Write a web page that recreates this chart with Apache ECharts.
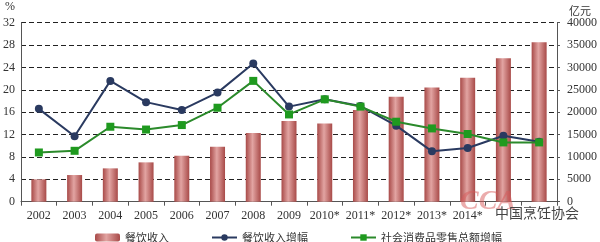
<!DOCTYPE html>
<html><head><meta charset="utf-8">
<script src="https://cdn.jsdelivr.net/npm/echarts@6/dist/echarts.min.js"></script>
<style>html,body{margin:0;padding:0;background:#fff}#c{width:600px;height:242px}</style>
</head><body><div id="c"></div>
<script>
const categories = ['2002','2003','2004','2005','2006','2007','2008','2009','2010*','2011*','2012*','2013*','2014*','2015*','2016*'];
const revenue = [5000,5960,7450,8790,10270,12280,15330,18020,17500,20470,23440,25500,27680,32080,35650];
const revenueGrowth = [16.6,11.7,21.6,17.8,16.4,19.5,24.7,17.0,18.3,17.1,13.6,9.0,9.6,11.8,10.7];
const retailGrowth = [8.8,9.1,13.4,12.9,13.7,16.8,21.6,15.6,18.3,17.0,14.3,13.1,12.1,10.6,10.6];
const leftTicks = [0,4,8,12,16,20,24,28,32];
const rightTicks = [0,5000,10000,15000,20000,25000,30000,35000,40000];
const names = ['餐饮收入','餐饮收入增幅','社会消费品零售总额增幅'];

const chart = echarts.init(document.getElementById('c'));
const serif = 'Liberation Serif';
const cjk = 'Noto Sans CJK SC';
chart.setOption({
  animation:false,
  grid:{left:20,right:39,top:22.7,bottom:40.3},
  legend:{
    left:90, top:227, itemWidth:25, itemHeight:8, itemGap:42,
    textStyle:{fontFamily:cjk,fontSize:11,color:'#333'},
    data:names
  },
  xAxis:{
    type:'category', data:categories,
    axisLine:{lineStyle:{color:'#555',width:1}},
    axisTick:{show:true,alignWithLabel:false,length:4,lineStyle:{color:'#555'}},
    axisLabel:{fontFamily:serif,fontSize:12,color:'#333',margin:8,interval:0}
  },
  yAxis:[{
    type:'value', min:leftTicks[0], max:leftTicks[leftTicks.length-1], interval:4,
    name:'%', nameLocation:'end', nameGap:10, nameTextStyle:{fontFamily:serif,fontSize:12,color:'#333',align:'right',padding:[0,6,0,0]},
    axisLine:{show:true,lineStyle:{color:'#555'}},
    axisTick:{show:false},
    axisLabel:{fontFamily:serif,fontSize:12,color:'#333',margin:6},
    splitLine:{show:true,lineStyle:{color:'#222',type:[5,3],width:1}}
  },{
    type:'value', min:rightTicks[0], max:rightTicks[rightTicks.length-1], interval:5000,
    name:'亿元', nameLocation:'end', nameGap:6, nameTextStyle:{fontFamily:cjk,fontSize:11,color:'#333',align:'left',padding:[0,0,0,12]},
    axisLine:{show:true,lineStyle:{color:'#555'}},
    axisTick:{show:true,length:3,lineStyle:{color:'#555'}},
    axisLabel:{fontFamily:serif,fontSize:12,color:'#333',margin:10,formatter:v=>String(v)},
    splitLine:{show:false}
  }],
  series:[{
    name:names[0], type:'bar', yAxisIndex:1, data:revenue, barWidth:15, z:1,
    itemStyle:{color:new echarts.graphic.LinearGradient(0,0,1,0,[
      {offset:0,color:'#a84a48'},{offset:0.45,color:'#e2a4a2'},{offset:1,color:'#a84a48'}])}
  },{
    name:names[1], type:'line', yAxisIndex:0, data:revenueGrowth, z:3,
    symbol:'circle', symbolSize:8,
    lineStyle:{color:'#2a3a60',width:2}, itemStyle:{color:'#2a3a60'}
  },{
    name:names[2], type:'line', yAxisIndex:0, data:retailGrowth, z:4,
    symbol:'rect', symbolSize:8,
    lineStyle:{color:'#2b8a2b',width:2}, itemStyle:{color:'#1f9a1f'}
  }],
  graphic:[{
    type:'rect', left:484, top:206, z:98, shape:{width:116,height:20}, style:{fill:'#fff'}
  },{
    type:'text', left:495, top:206, z:100,
    style:{text:'中国烹饪协会', font:'14px "Noto Sans CJK SC"', fill:'#444'}
  },{
    type:'text', left:460, top:188, z:99,
    style:{text:'CCA', font:'italic bold 28px "Liberation Serif"', fill:'rgba(215,90,90,0.5)'}
  }]
});
</script></body></html>
